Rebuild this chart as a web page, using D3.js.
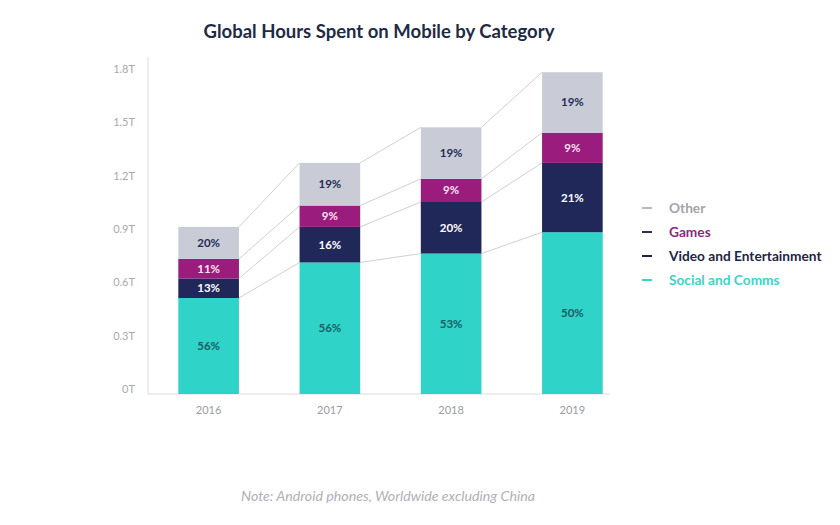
<!DOCTYPE html>
<html><head><meta charset="utf-8">
<script src="https://cdn.jsdelivr.net/npm/d3@7"></script>
<style>body{margin:0;background:#fff;} svg{display:block;font-family:Lato,"Open Sans",sans-serif;}</style>
</head><body><svg id="c" width="840" height="525"></svg>
<script>
const years = ["2016","2017","2018","2019"];
const seriesNames = ["Social and Comms","Video and Entertainment","Games","Other"];
const social = [0.54, 0.74, 0.79, 0.91];
const video  = [0.11, 0.20, 0.29, 0.39];
const games  = [0.11, 0.12, 0.13, 0.17];
const other  = [0.18, 0.24, 0.29, 0.34];
const socialPct = ["56%","56%","53%","50%"];
const videoPct  = ["13%","16%","20%","21%"];
const gamesPct  = ["11%","9%","9%","9%"];
const otherPct  = ["20%","19%","19%","19%"];
const yTicks = [0,0.3,0.6,0.9,1.2,1.5,1.8];
const yTickLabels = ["0T","0.3T","0.6T","0.9T","1.2T","1.5T","1.8T"];

const keys = ["social","video","games","other"];
const colors = {social:"#2fd3c7", video:"#1f2858", games:"#9a1c7c", other:"#c9ccd6"};
const labelColors = {social:"#165e68", video:"#ffffff", games:"#fbe3f3", other:"#232b57"};
const pcts = {social:socialPct, video:videoPct, games:gamesPct, other:otherPct};
const table = years.map((y,i)=>({year:y, social:social[i], video:video[i], games:games[i], other:other[i]}));

const svg = d3.select("#c");
const x = d3.scaleBand().domain(years).range([148,633]).paddingInner(0.5).paddingOuter(0.25);
const y = d3.scaleLinear().domain([0,1.8]).range([394,74]);

svg.append("text").attr("x",379).attr("y",38).attr("text-anchor","middle")
  .attr("font-size",18.5).attr("font-weight",700).attr("fill","#1f2a44")
  .text("Global Hours Spent on Mobile by Category");

// axes lines
svg.append("line").attr("x1",148).attr("x2",148).attr("y1",57).attr("y2",394).attr("stroke","#dcdce0");
svg.append("line").attr("x1",148).attr("x2",610).attr("y1",394).attr("y2",394).attr("stroke","#dcdce0");

const yAxis = d3.axisLeft(y).tickValues(yTicks).tickFormat((d,i)=>yTickLabels[i]).tickSize(0).tickPadding(13);
const ga = svg.append("g").attr("transform","translate(148,-5)").call(yAxis);
ga.select(".domain").remove();
ga.selectAll("text").attr("font-size",11).attr("fill","#a9a9b0").attr("font-family","Lato,sans-serif");

const xAxis = d3.axisBottom(x).tickSize(0).tickPadding(12);
const gx = svg.append("g").attr("transform","translate(0,394)").call(xAxis);
gx.select(".domain").remove();
gx.selectAll("text").attr("font-size",11).attr("fill","#9a9aa2").attr("font-family","Lato,sans-serif");

const stacked = d3.stack().keys(keys)(table);

// connector lines
stacked.forEach(layer=>{
  for(let i=0;i<years.length-1;i++){
    const a = layer[i], b = layer[i+1];
    svg.append("line")
      .attr("x1", x(years[i])+x.bandwidth()).attr("y1", y(a[1]))
      .attr("x2", x(years[i+1])).attr("y2", y(b[1]))
      .attr("stroke","#cfcfd7").attr("stroke-width",1);
  }
});

stacked.forEach(layer=>{
  const k = layer.key;
  svg.append("g").selectAll("rect").data(layer).join("rect")
    .attr("x",(d,i)=>x(years[i])).attr("width",x.bandwidth())
    .attr("y",d=>y(d[1])).attr("height",d=>y(d[0])-y(d[1]))
    .attr("fill",colors[k]);
  svg.append("g").selectAll("text").data(layer).join("text")
    .attr("x",(d,i)=>x(years[i])+x.bandwidth()/2)
    .attr("y",d=>(y(d[0])+y(d[1]))/2+4)
    .attr("text-anchor","middle").attr("font-size",11.5).attr("font-weight",700)
    .attr("fill",labelColors[k])
    .text((d,i)=>pcts[k][i]);
});

// legend
const legend = [
  {name:"Other", dash:"#b8b8c0", color:"#a3a3ab"},
  {name:"Games", dash:"#3a2a50", color:"#8a2a80"},
  {name:"Video and Entertainment", dash:"#1f2440", color:"#1f2446"},
  {name:"Social and Comms", dash:"#3dd3c6", color:"#3dd3c6"}
];
const lg = svg.append("g");
legend.forEach((l,i)=>{
  const yy = 208 + i*24;
  lg.append("line").attr("x1",642).attr("x2",652).attr("y1",yy).attr("y2",yy).attr("stroke",l.dash).attr("stroke-width",2);
  lg.append("text").attr("x",669).attr("y",yy+4.5).attr("font-size",13.7).attr("font-weight",700)
    .attr("fill",l.color).text(l.name);
});

svg.append("text").attr("x",388).attr("y",501).attr("text-anchor","middle")
  .attr("font-size",14.2).attr("font-style","italic").attr("fill","#b0b0b6")
  .text("Note: Android phones, Worldwide excluding China");
</script></body></html>
